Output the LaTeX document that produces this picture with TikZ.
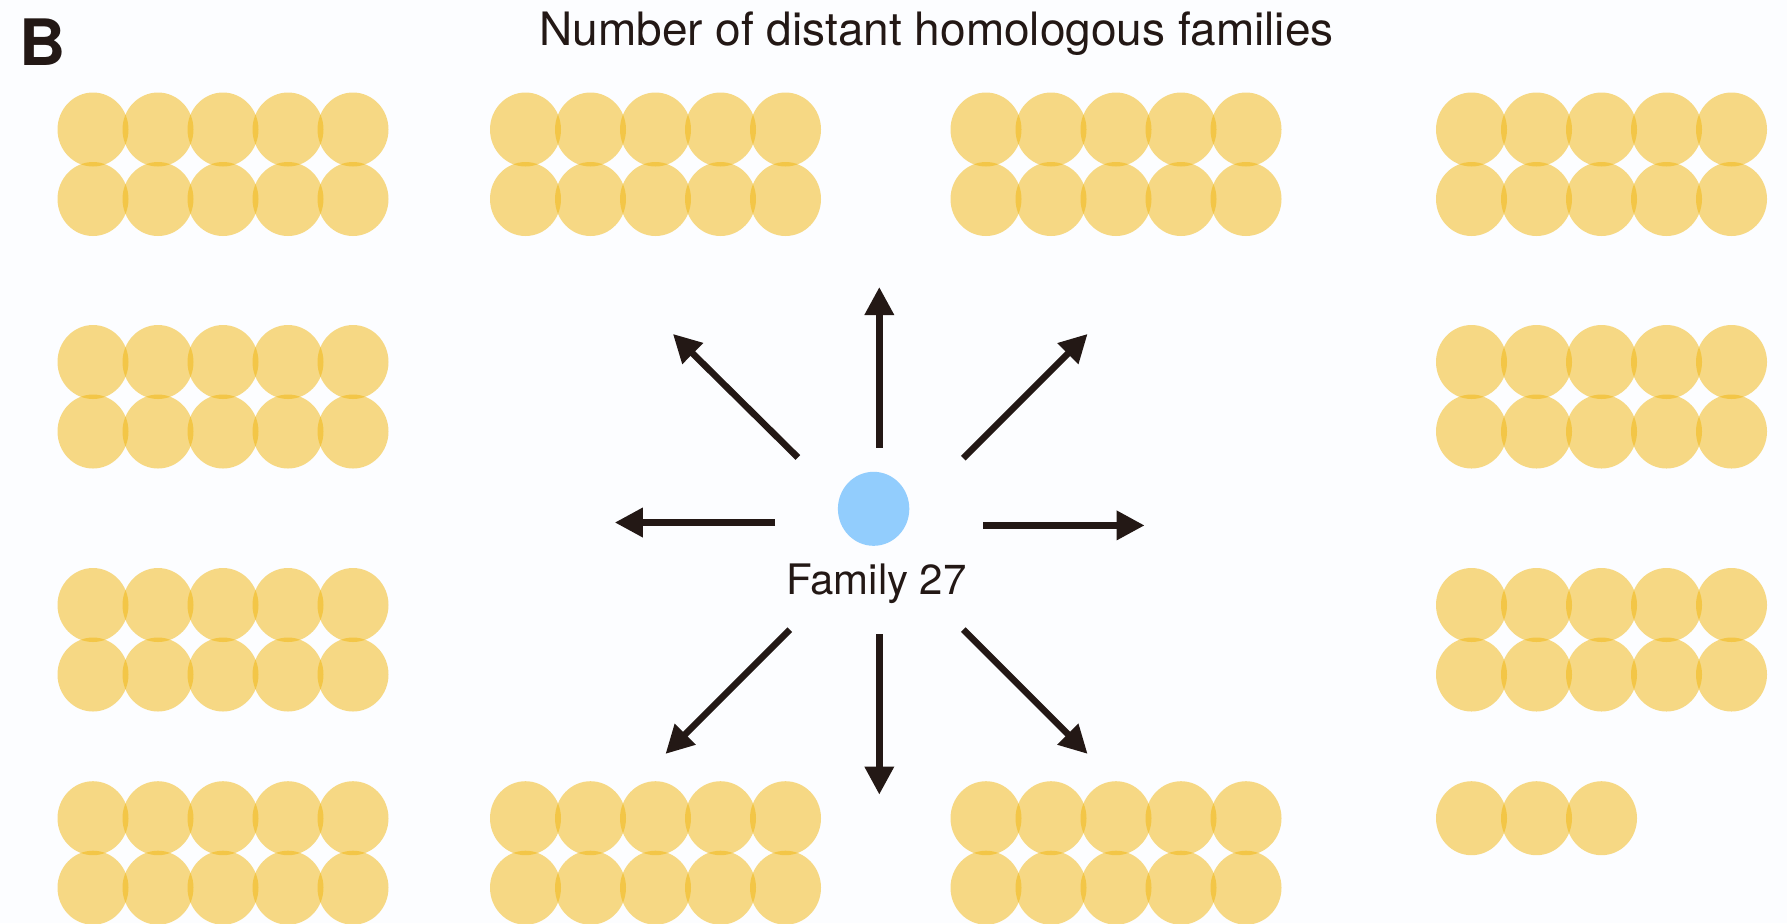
\documentclass[tikz,border=0pt]{standalone}
\usepackage{fontspec}
\setmainfont{TeX Gyre Heros}
\usetikzlibrary{arrows.meta,shapes.geometric}

\definecolor{ink}{RGB}{35,24,21}
\definecolor{famyellow}{RGB}{241,181,11}
\definecolor{famblue}{RGB}{146,205,253}
\definecolor{paper}{RGB}{252,253,255}

\tikzset{
  famdot/.style={ellipse, fill=famyellow, fill opacity=0.5, draw=none,
    minimum width=35.5pt, minimum height=37pt, inner sep=0pt},
  seeddot/.style={ellipse, fill=famblue, draw=none,
    minimum width=35.7pt, minimum height=37pt, inner sep=0pt},
  spread/.style={draw=ink, line width=3.3pt,
    -{Triangle[length=14pt,width=14pt]}},
  txt/.style={text=ink, inner sep=0pt, anchor=base},
}

% a block of homologous families: name, first centre x, first centre y, columns, rows
\newcommand\famgrid[5]{%
  \foreach \r in {1,...,#5}{%
    \foreach \c in {1,...,#4}{%
      \node[famdot] (#1-\r-\c) at ({#2+65*(\c-1)}, {#3+69.5*(\r-1)}) {};
    }%
  }%
}

\begin{document}
\begin{tikzpicture}[x=0.5pt, y=-0.5pt]
  \useasboundingbox (0,0) rectangle (1787,923);
  \clip (0,0) rectangle (1787,923);
  \fill[paper] (0,0) rectangle (1787,923);

  % panel letter and heading
  \node[txt, anchor=base west, font=\fontsize{32pt}{36pt}\selectfont\bfseries] (panel) at (19,65.7) {B};
  \node[txt, font=\fontsize{23pt}{26pt}\selectfont] (heading) at (936.5,45.7) {Number of distant homologous families};

  % surrounding families
  \famgrid{a1}{93}{129.5}{5}{2}
  \famgrid{a2}{525.5}{129.5}{5}{2}
  \famgrid{a3}{986}{129.5}{5}{2}
  \famgrid{a4}{1471.5}{129.5}{5}{2}
  \famgrid{b1}{93}{362}{5}{2}
  \famgrid{b4}{1471.5}{362}{5}{2}
  \famgrid{c1}{93}{605}{5}{2}
  \famgrid{c4}{1471.5}{605}{5}{2}
  \famgrid{d1}{93}{818.2}{5}{2}
  \famgrid{d2}{525.5}{818.2}{5}{2}
  \famgrid{d3}{986}{818.2}{5}{2}
  \famgrid{d4}{1471.5}{818.2}{3}{1}

  % the seed family
  \node[seeddot] (seed) at (873.6,508.8) {};
  \node[txt, font=\fontsize{21pt}{24pt}\selectfont] (seedname) at (876.5,594.6) {Family 27};

  % arrow ends
  \coordinate (tN)  at (879.3,447.5);  \coordinate (hN)  at (879.3,287);
  \coordinate (tS)  at (879.3,634.3);  \coordinate (hS)  at (879.3,794.6);
  \coordinate (tW)  at (775,522.5);    \coordinate (hW)  at (614.8,522.5);
  \coordinate (tE)  at (983.3,525.4);  \coordinate (hE)  at (1144.6,525.4);
  \coordinate (tNW) at (797.9,457.5);  \coordinate (hNW) at (672.9,333.9);
  \coordinate (tNE) at (963.3,458.2);  \coordinate (hNE) at (1087.6,333.9);
  \coordinate (tSW) at (789.8,629.6);  \coordinate (hSW) at (665.5,753.9);
  \coordinate (tSE) at (963.3,629.6);  \coordinate (hSE) at (1087.6,753.9);

  \foreach \d in {N,S,W,E,NW,NE,SW,SE}{
    \draw[spread] (t\d) -- (h\d);
  }
\end{tikzpicture}
\end{document}
